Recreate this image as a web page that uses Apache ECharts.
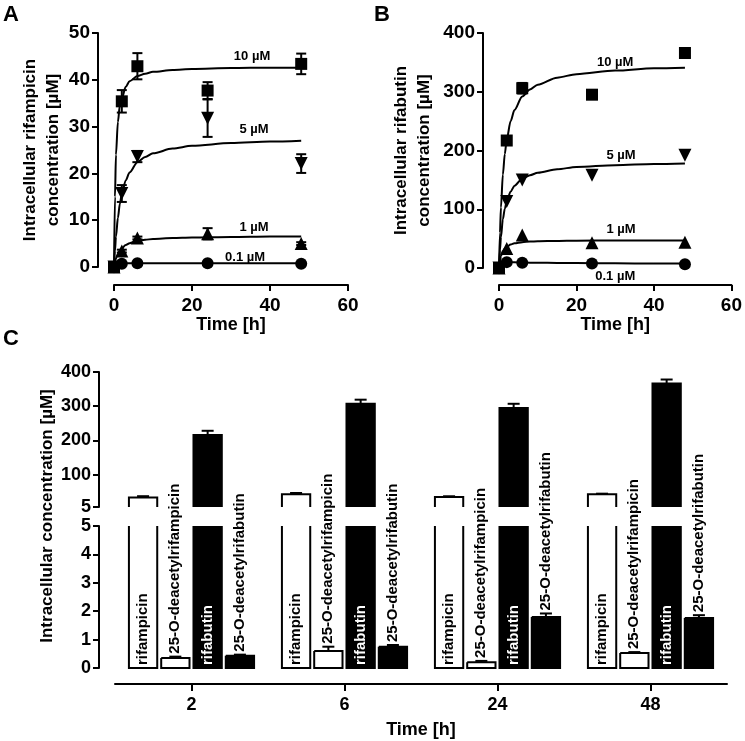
<!DOCTYPE html>
<html><head><meta charset="utf-8">
<script src="https://cdn.jsdelivr.net/npm/echarts@6/dist/echarts.min.js"></script>
<style>html,body{margin:0;padding:0;background:#fff}#c{width:745px;height:741px}</style>
</head><body><div id="c"></div>
<script>
const FONT = '"Liberation Sans", Arial, Helvetica, sans-serif';

// ---------- Panel A / B : kinetics ----------
const timesKin = [0, 2, 6, 24, 48];
const rifA_10 = [0, 35.4, 42.9, 37.7, 43.4];
const rifA_10_err = [0, 2.4, 2.8, 1.8, 2.2];
const rifA_5 = [0, 15.7, 23.6, 31.8, 22.1];
const rifA_5_err = [0, 1.8, 1.2, 4.0, 2.0];
const rifA_1 = [0, 3.4, 6.2, 7.1, 5.0];
const rifA_1_err = [0, 0.3, 0.3, 1.2, 0.3];
const rifA_01 = [0, 0.7, 0.8, 0.8, 0.7];

const rbtB_10 = [0, 217, 306, 295, 366];
const rbtB_10_err = [0, 5, 9, 4, 8];
const rbtB_5 = [0, 113, 150, 158, 192];
const rbtB_1 = [0, 33, 56, 43, 44];
const rbtB_01 = [0, 10, 9, 7.5, 6.5];

// fitted curves
const fitT   = [0, 0.25, 0.5, 1, 1.5, 2, 3, 4, 6, 8, 10, 15, 20, 30, 40, 48];
const fitA_10 = [0, 15, 24, 31, 34.5, 36, 38.5, 39.7, 40.8, 41.3, 41.7, 42.1, 42.3, 42.5, 42.6, 42.6];
const fitA_5  = [0, 3.5, 6.5, 10.5, 13.5, 15.6, 18.5, 20.2, 22.4, 23.5, 24.3, 25.3, 25.9, 26.5, 26.8, 27.0];
const fitA_1  = [0, 1.1, 1.8, 2.8, 3.5, 4.0, 4.7, 5.1, 5.6, 5.8, 6.0, 6.2, 6.3, 6.4, 6.5, 6.5];
const fitA_01 = [0, 0.4, 0.6, 0.7, 0.75, 0.78, 0.8, 0.8, 0.8, 0.8, 0.8, 0.8, 0.8, 0.8, 0.8, 0.8];
const fitB_10 = [0, 60, 103, 159, 194, 219, 250, 269, 292, 304, 312, 324, 330, 336, 340, 341];
const fitB_5  = [0, 31, 53, 83, 101, 114, 130, 140, 152, 158, 162, 168, 172, 175, 177, 178];
const fitB_1  = [0, 10, 20, 29, 33, 36, 40, 42, 44, 45, 45.5, 46, 46.5, 46.8, 47, 47];
const fitB_01 = [0, 6, 9, 10, 10, 10, 9.8, 9.6, 9.3, 9.1, 8.9, 8.6, 8.4, 8, 7.7, 7.5];

const concLabels = ['10 µM', '5 µM', '1 µM', '0.1 µM'];
// label anchors (data coordinates)
const labelAnchorA = [[35.4, 44.9], [35.9, 29.3], [35.9, 8.5], [33.6, 2.1]];
const labelAnchorB = [[30, 350], [31.5, 192], [31.5, 66], [30, -15]];

// ---------- Panel C : bars ----------
const timeCats = ['2', '6', '24', '48'];
const cRifampicin = [32.6, 42, 34.4, 42];
const cRifampicinErr = [4, 4, 2, 2];
const cDeacRifampicin = [0.35, 0.6, 0.2, 0.53];
const cDeacRifampicinErr = [0.05, 0.15, 0.05, 0.03];
const cRifabutin = [216, 307, 295, 366];
const cRifabutinErr = [12, 12, 12, 12];
const cDeacRifabutin = [0.43, 0.75, 1.8, 1.76];
const cDeacRifabutinErr = [0.04, 0.06, 0.12, 0.1];
const upperTicks = [5, 100, 200, 300, 400];

const zip = (xs, ys) => xs.map((x, i) => [x, ys[i]]);
const zip3 = (xs, ys, es) => xs.map((x, i) => [x, ys[i], es[i]]);

const axisBase = (fs) => ({
  axisLine: { show: true, onZero: false, lineStyle: { color: '#000', width: 2 } },
  axisTick: { show: true, length: 6, lineStyle: { color: '#000', width: 2 } },
  splitLine: { show: false },
  axisLabel: { color: '#000', fontWeight: 'bold', fontSize: fs, fontFamily: FONT, margin: 8 }
});

function errSeries(ax, data) {
  return {
    type: 'custom', xAxisIndex: ax, yAxisIndex: ax, data, clip: false, z: 3,
    encode: { x: 0, y: 1 },
    renderItem(params, api) {
      const x = api.value(0), y = api.value(1), e = api.value(2);
      if (!e) return null;
      const t = api.coord([x, y + e]), b = api.coord([x, y - e]);
      const c = 5, st = { stroke: '#000', lineWidth: 2 };
      return { type: 'group', children: [
        { type: 'line', shape: { x1: t[0], y1: t[1], x2: b[0], y2: b[1] }, style: st },
        { type: 'line', shape: { x1: t[0] - c, y1: t[1], x2: t[0] + c, y2: t[1] }, style: st },
        { type: 'line', shape: { x1: b[0] - c, y1: b[1], x2: b[0] + c, y2: b[1] }, style: st }
      ]};
    }
  };
}
function fitSeries(ax, ys) {
  return { type: 'line', xAxisIndex: ax, yAxisIndex: ax, data: zip(fitT, ys), showSymbol: false,
    smooth: 0.3, smoothMonotone: 'x', lineStyle: { color: '#000', width: 2 }, z: 2, silent: true };
}
function markSeries(ax, ys, symbol, rot, size) {
  return { type: 'scatter', xAxisIndex: ax, yAxisIndex: ax, data: zip(timesKin, ys), symbol,
    symbolRotate: rot || 0, symbolSize: size, itemStyle: { color: '#000', opacity: 1 }, clip: false, z: 4 };
}
function labelSeries(ax, anchors) {
  return { type: 'scatter', xAxisIndex: ax, yAxisIndex: ax, symbolSize: 0, clip: false, z: 5,
    itemStyle: { color: '#000', opacity: 1 },
    data: anchors.map((a, i) => ({ value: a, name: concLabels[i] })),
    label: { show: true, position: 'inside', formatter: p => p.name, color: '#000', opacity: 1,
      fontWeight: 'bold', fontSize: 13, fontFamily: FONT } };
}

const UPPER = { lo: 5, hi: 400 }, LOWER = { lo: 0, hi: 5 };
function barSeries(values, errs, slot, filled, part, ax, label, labelMode) {
  return {
    type: 'custom', xAxisIndex: ax, yAxisIndex: ax, clip: false, z: 3,
    data: zip3(values.map((v, i) => i), values, errs),
    encode: { x: 0, y: 1 },
    renderItem(params, api) {
      const ci = api.value(0), v = api.value(1), e = api.value(2);
      if (v <= part.lo) return null;
      const band = api.size([1, 0])[0];
      const cx = api.coord([ci, part.lo])[0] + (slot - 1.5) * band * 0.211;
      const w = band * 0.185, l = cx - w / 2, r = cx + w / 2;
      const yBase = api.coord([ci, part.lo])[1];
      const clipped = v > part.hi;
      const yTop = api.coord([ci, clipped ? part.hi : v])[1];
      const st = { stroke: '#000', lineWidth: 2, fill: null };
      const children = [
        { type: 'rect', shape: { x: l, y: yTop, width: w, height: yBase - yTop },
          style: { fill: filled ? '#000' : '#fff' } }
      ];
      let pts;
      if (part === UPPER) pts = [[l, yBase], [l, yTop], [r, yTop], [r, yBase]];
      else if (clipped) pts = [[l, yTop], [l, yBase], [r, yBase], [r, yTop]];
      else pts = [[l, yTop], [l, yBase], [r, yBase], [r, yTop], [l, yTop]];
      children.push({ type: 'polyline', shape: { points: pts }, style: st });
      let errTop = yTop;
      if (!clipped && e) {
        const t = api.coord([ci, v + e])[1];
        errTop = t;
        children.push({ type: 'line', shape: { x1: cx, y1: yTop, x2: cx, y2: t }, style: st });
        children.push({ type: 'line', shape: { x1: cx - 6, y1: t, x2: cx + 6, y2: t }, style: st });
      }
      if (part === LOWER && label) {
        const inside = labelMode === 'inside';
        children.push({ type: 'text', x: cx, y: inside ? yBase - 3 : errTop - 3, rotation: Math.PI / 2,
          style: { text: label, fill: inside && filled ? '#fff' : '#000', align: 'left', verticalAlign: 'middle',
            font: 'bold 15px ' + FONT } });
      }
      return { type: 'group', children };
    }
  };
}

const option = {
  animation: false,
  backgroundColor: '#fff',
  textStyle: { fontFamily: FONT, fontWeight: 'bold', color: '#000' },
  grid: [
    { left: 114, top: 33, width: 234, height: 234 },
    { left: 499, top: 33, width: 236, height: 235 },
    { left: 115, top: 372, width: 612, height: 135 },
    { left: 115, top: 526, width: 612, height: 142 }
  ],
  xAxis: [
    Object.assign(axisBase(19), { type: 'value', gridIndex: 0, min: 0, max: 60, interval: 20, offset: 18,
      name: 'Time [h]', nameLocation: 'middle', nameGap: 29,
      nameTextStyle: { fontSize: 18, fontWeight: 'bold', color: '#000', fontFamily: FONT } }),
    Object.assign(axisBase(19), { type: 'value', gridIndex: 1, min: 0, max: 60, interval: 20, offset: 17,
      name: 'Time [h]', nameLocation: 'middle', nameGap: 29,
      nameTextStyle: { fontSize: 18, fontWeight: 'bold', color: '#000', fontFamily: FONT } }),
    { type: 'category', gridIndex: 2, data: timeCats, show: false },
    Object.assign(axisBase(18), { type: 'category', gridIndex: 3, data: timeCats, offset: 16,
      name: 'Time [h]', nameLocation: 'middle', nameGap: 37,
      nameTextStyle: { fontSize: 18, fontWeight: 'bold', color: '#000', fontFamily: FONT } })
  ],
  yAxis: [
    Object.assign(axisBase(19), { type: 'value', gridIndex: 0, min: 0, max: 50, interval: 10, offset: 16,
      name: 'Intracellular rifampicin\nconcentration [µM]', nameLocation: 'middle', nameGap: 31,
      nameTextStyle: { fontSize: 17, fontWeight: 'bold', color: '#000', fontFamily: FONT, lineHeight: 23 } }),
    Object.assign(axisBase(19), { type: 'value', gridIndex: 1, min: 0, max: 400, interval: 100, offset: 16,
      name: 'Intracellular rifabutin\nconcentration [µM]', nameLocation: 'middle', nameGap: 47,
      nameTextStyle: { fontSize: 17, fontWeight: 'bold', color: '#000', fontFamily: FONT, lineHeight: 23 } }),
    Object.assign(axisBase(18), { type: 'value', gridIndex: 2, min: 5, max: 400, offset: 16 }),
    Object.assign(axisBase(18), { type: 'value', gridIndex: 3, min: 0, max: 5, interval: 1, offset: 16 })
  ],
  series: [
    fitSeries(0, fitA_10), fitSeries(0, fitA_5), fitSeries(0, fitA_1), fitSeries(0, fitA_01),
    errSeries(0, zip3(timesKin, rifA_10, rifA_10_err)),
    errSeries(0, zip3(timesKin, rifA_5, rifA_5_err)),
    errSeries(0, zip3(timesKin, rifA_1, rifA_1_err)),
    markSeries(0, rifA_01, 'circle', 0, 12),
    markSeries(0, rifA_1, 'triangle', 0, 13),
    markSeries(0, rifA_5, 'triangle', 180, 13),
    markSeries(0, rifA_10, 'rect', 0, 12),
    labelSeries(0, labelAnchorA),

    fitSeries(1, fitB_10), fitSeries(1, fitB_5), fitSeries(1, fitB_1), fitSeries(1, fitB_01),
    errSeries(1, zip3(timesKin, rbtB_10, rbtB_10_err)),
    markSeries(1, rbtB_01, 'circle', 0, 12),
    markSeries(1, rbtB_1, 'triangle', 0, 13),
    markSeries(1, rbtB_5, 'triangle', 180, 13),
    markSeries(1, rbtB_10, 'rect', 0, 12),
    labelSeries(1, labelAnchorB),

    barSeries(cRifampicin, cRifampicinErr, 0, false, UPPER, 2),
    barSeries(cRifabutin, cRifabutinErr, 2, true, UPPER, 2),
    barSeries(cRifampicin, cRifampicinErr, 0, false, LOWER, 3, 'rifampicin', 'inside'),
    barSeries(cDeacRifampicin, cDeacRifampicinErr, 1, false, LOWER, 3, '25-O-deacetylrifampicin', 'above'),
    barSeries(cRifabutin, cRifabutinErr, 2, true, LOWER, 3, 'rifabutin', 'inside'),
    barSeries(cDeacRifabutin, cDeacRifabutinErr, 3, true, LOWER, 3, '25-O-deacetylrifabutin', 'above')
  ],
  graphic: [
    { type: 'text', x: 3, y: 4, style: { text: 'A', font: 'bold 22px ' + FONT, fill: '#000' } },
    { type: 'text', x: 374, y: 4, style: { text: 'B', font: 'bold 22px ' + FONT, fill: '#000' } },
    { type: 'text', x: 3, y: 328, style: { text: 'C', font: 'bold 22px ' + FONT, fill: '#000' } },
    { type: 'text', x: 47, y: 516, rotation: Math.PI / 2,
      style: { text: 'Intracellular concentration [µM]', font: 'bold 17px ' + FONT, fill: '#000',
        align: 'center', verticalAlign: 'middle' } }
  ]
};
// custom tick values on upper broken segment
option.yAxis[2].axisLabel.customValues = upperTicks;
option.yAxis[2].axisTick.customValues = upperTicks;
option.xAxis[3].axisTick.alignWithLabel = true;
option.xAxis[3].axisTick.length = 7;
option.xAxis[3].axisLabel.margin = 12;
option.xAxis[0].axisLabel.margin = 11;
option.xAxis[1].axisLabel.margin = 11;

const chart = echarts.init(document.getElementById('c'), null, { renderer: 'canvas' });
chart.setOption(option);
</script></body></html>
